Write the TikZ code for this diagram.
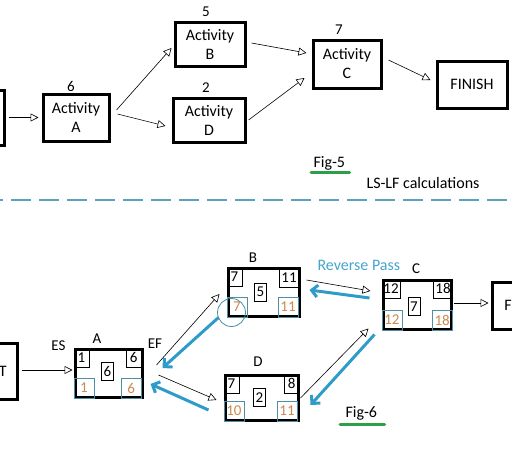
\documentclass[tikz,border=0pt]{standalone}
\usepackage{fontspec}
\setmainfont{Carlito}
\usetikzlibrary{arrows.meta,positioning,calc}

\definecolor{revblue}{HTML}{2E9BC8}
\definecolor{rptext}{HTML}{45A5CF}
\definecolor{lsblue}{HTML}{4E8FA3}
\definecolor{lforange}{HTML}{C98A4F}
\definecolor{figgreen}{HTML}{2E9E48}
\definecolor{dashblue}{HTML}{5BA3BD}

\begin{document}
\begin{tikzpicture}[
    x=1pt, y=-1pt,
    font=\fontsize{16}{19}\selectfont,
    act/.style={draw, line width=3pt, align=center, inner sep=0pt},
    num/.style={font=\fontsize{15}{17}\selectfont, inner sep=1pt},
    esbox/.style={draw, line width=0.8pt, minimum width=15pt, minimum height=19pt, inner sep=1.5pt, font=\fontsize{15}{17}\selectfont},
    lsbox/.style={esbox, draw=lsblue, text=lforange, minimum width=20pt, minimum height=20pt},
    durbox/.style={esbox, minimum width=12pt, minimum height=18pt},
    fwd/.style={-{Triangle[open,length=8pt,width=8pt]}, line width=0.6pt},
    rev/.style={draw=revblue, line width=3pt, -{Straight Barb[length=6pt,width=12pt]}},
    uline/.style={draw=figgreen, line width=3pt, line cap=round}
  ]
  \useasboundingbox (0,0) rectangle (512,450);
  \clip (0,0) rectangle (512,450);

  % Fig-5: activity network
  \node[act, minimum width=64pt, minimum height=55pt] (tS) at (-28,117.5) {};
  \node[act, minimum width=66pt, minimum height=47pt] (tA) at (76,117.5) {Activity\\A};
  \node[act, minimum width=70pt, minimum height=44pt] (tB) at (210,44) {Activity\\B};
  \node[act, minimum width=72pt, minimum height=44pt] (tD) at (209,120) {Activity\\D};
  \node[act, minimum width=68pt, minimum height=48pt] (tC) at (347,64) {Activity\\C};
  \node[act, minimum width=70pt, minimum height=47pt] (tF) at (472,84.5) {FINISH};

  \node[num, above=0pt of tA.north, xshift=-5pt] (tAn) {6};
  \node[num, above=3pt of tB.north, xshift=-4pt] (tBn) {5};
  \node[num, above=3pt of tD.north, xshift=-3pt] (tDn) {2};
  \node[num, above=3pt of tC.north, xshift=-8pt] (tCn) {7};

  \draw[fwd] ($(tS.east)+(3,0)$) -- ($(tA.west)+(-3,0)$);
  \draw[fwd] ($(tA.east)+(6,-7.5)$) -- ($(tB.west)+(-2,4)$);
  \draw[fwd] ($(tA.east)+(7,-3.5)$) -- ($(tD.west)+(-6,6)$);
  \draw[fwd] ($(tB.east)+(5,-1)$) -- ($(tC.west)+(-5,-11)$);
  \draw[fwd] ($(tD.east)+(2,0)$) -- ($(tC.west)+(-7,14)$);
  \draw[fwd] ($(tC.east)+(6,-4)$) -- ($(tF.west)+(-5,-4.5)$);

  \node[anchor=base west] (fig5) at (310,167) {Fig-5};
  \draw[uline] ($(fig5.base west)+(1,5)$) -- ($(fig5.base east)+(1,5)$);
  \node[anchor=base west] (lslf) at (363,188) {LS-LF calculations};

  \draw[dashblue, line width=1.2pt, dash pattern=on 20pt off 8pt, dash phase=17pt] (0,200) -- (512,200);

  % Fig-6: forward and reverse pass
  \node[act, minimum width=60pt, minimum height=56pt] (S) at (-13,371) {START};
  \node[act, minimum width=67pt, minimum height=48pt] (A) at (108.5,373) {};
  \node[act, minimum width=71pt, minimum height=48pt] (B) at (263.5,292) {};
  \node[act, minimum width=68pt, minimum height=49pt] (C) at (417,304.5) {};
  \node[act, minimum width=73pt, minimum height=45pt] (D) at (261.5,397.5) {};
  \node[act, minimum width=68pt, minimum height=47pt] (F) at (526,305.5) {FINISH};

  \node[esbox, anchor=north west] (A-es) at (A.north west) {1};
  \node[esbox, anchor=north east] (A-ef) at ($(A.north east)+(-2,0)$) {6};
  \node[durbox] (A-d) at ($(A)+(-1,-2)$) {6};
  \node[lsbox, anchor=south west] (A-ls) at (A.south west) {1};
  \node[lsbox, anchor=south east] (A-lf) at ($(A.south east)+(-2,0)$) {6};

  \node[esbox, anchor=north west] (B-es) at (B.north west) {7};
  \node[esbox, anchor=north east] (B-ef) at ($(B.north east)+(-2,1)$) {11};
  \node[durbox] (B-d) at ($(B)+(-3,0)$) {5};
  \node[lsbox, anchor=south west] (B-ls) at (B.south west) {7};
  \node[lsbox, anchor=south east] (B-lf) at ($(B.south east)+(-2,0)$) {11};

  \node[esbox, anchor=north west] (C-es) at (C.north west) {12};
  \node[esbox, anchor=north east] (C-ef) at (C.north east) {18};
  \node[durbox] (C-d) at ($(C)+(-3,2)$) {7};
  \node[lsbox, anchor=south west] (C-ls) at (C.south west) {12};
  \node[lsbox, anchor=south east] (C-lf) at (C.south east) {18};

  \node[esbox, anchor=north west] (D-es) at (D.north west) {7};
  \node[esbox, anchor=north east] (D-ef) at (D.north east) {8};
  \node[durbox] (D-d) at ($(D)+(-2,0)$) {2};
  \node[lsbox, anchor=south west] (D-ls) at (D.south west) {10};
  \node[lsbox, anchor=south east] (D-lf) at ($(D.south east)+(-2,0)$) {11};

  \node[num, above=3pt of A.north, xshift=-11.5pt] (An) {A};
  \node[num, above=3pt of B.north, xshift=-10.5pt] (Bn) {B};
  \node[num, above=3.5pt of C.north, xshift=-1pt] (Cn) {C};
  \node[num, above=5.5pt of D.north, xshift=-3.5pt] (Dn) {D};
  \node[num] (es) at ($(A.north west)+(-15,-2)$) {ES};
  \node[num] (ef) at ($(A.north east)+(11.5,-4)$) {EF};

  \draw[fwd] ($(S.east)+(3,-1)$) -- ($(A.west)+(-1,-3)$);
  \draw[fwd] ($(A.east)+(13,-8)$) -- ($(B.west)+(-7,2)$);
  \draw[fwd] ($(A.east)+(15,2)$) -- ($(D.west)+(-7,2.5)$);
  \draw[fwd] ($(B.east)+(6,-12)$) -- ($(C.west)+(-11,-13.5)$);
  \draw[fwd] ($(D.east)+(1,0.5)$) -- ($(C.south west)+(-13,-2)$);
  \draw[fwd] ($(C.east)+(1,-1.5)$) -- ($(F.west)+(-2,-2.5)$);

  \draw[rev] ($(B.south west)+(-8,0)$) -- ($(A.east)+(19,-5)$);
  \draw[rev] ($(D.west)+(-15,12.5)$) -- ($(A.east)+(7,11)$);
  \draw[rev] ($(C.west)+(-12,-6.5)$) -- ($(B.east)+(9,-2)$);
  \draw[rev] ($(C.south west)+(-7,4)$) -- ($(D.east)+(11,7.5)$);

  \node[draw=lsblue, circle, line width=0.8pt, minimum size=28pt] (hl) at ($(B.south west)+(5,-5)$) {};

  \node[anchor=base west, text=rptext] (rp) at (314,270) {Reverse Pass};
  \node[anchor=base west] (fig6) at (342,417) {Fig-6};
  \draw[uline] ($(fig6.base west)+(-2,7)$) -- ($(fig6.base east)+(4,7)$);
\end{tikzpicture}
\end{document}
